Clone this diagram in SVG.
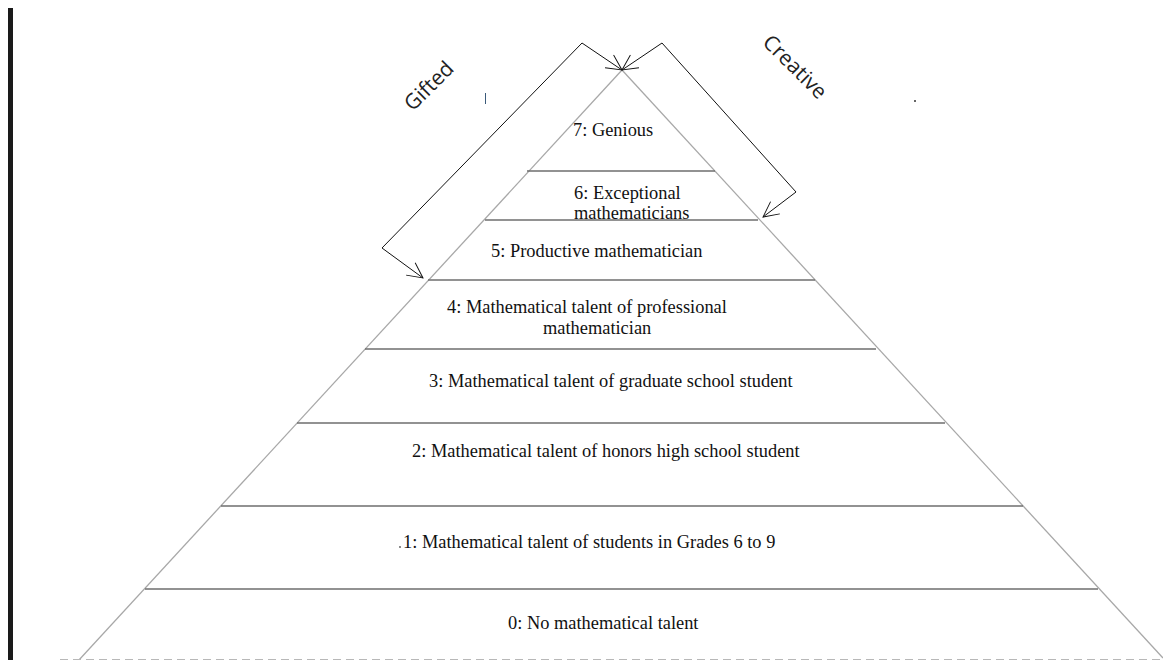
<svg xmlns="http://www.w3.org/2000/svg" width="1163" height="660" viewBox="0 0 1163 660">
  <style>
    .lbl { font-family: "Liberation Serif", "Times New Roman", serif; font-size: 18.4px; fill: #111; }
    .side { font-family: "Open Sans", "Noto Sans", "DejaVu Sans", sans-serif; font-size: 21px; fill: #222; }
    .edge { stroke: #a8a8a8; stroke-width: 1.3; fill: none; }
    .tier { stroke: #6e6e6e; stroke-width: 1.6; fill: none; }
    .conn { stroke: #111; stroke-width: 1; fill: none; }
  </style>
  <defs>
    <marker id="arr" viewBox="0 0 20 20" refX="19" refY="10" markerWidth="17" markerHeight="17" markerUnits="userSpaceOnUse" orient="auto-start-reverse">
      <path d="M1,1 L19,10 L1,19" fill="none" stroke="#111" stroke-width="1.1"/>
    </marker>
  </defs>
  <rect x="0" y="0" width="1163" height="660" fill="#ffffff"/>
  <rect x="8" y="8" width="5" height="652" fill="#1a1a1a"/>

  <g id="pyramid-outline">
    <line class="edge" x1="622" y1="70" x2="79" y2="660"/>
    <line class="edge" x1="622" y1="70" x2="1163" y2="658"/>
    <line x1="60" y1="659.5" x2="1163" y2="659.5" stroke="#b8b8b8" stroke-width="1" stroke-dasharray="8 5"/>
  </g>

  <g id="tier7">
    <text class="lbl" x="573" y="136">7: Genious</text>
  </g>
  <g id="tier6">
    <line class="tier" x1="527" y1="171" x2="715" y2="171"/>
    <text class="lbl" x="574" y="199">6: Exceptional</text>
    <text class="lbl" x="574" y="219">mathematicians</text>
  </g>
  <g id="tier5">
    <line class="tier" x1="485" y1="220" x2="758" y2="220"/>
    <text class="lbl" x="491" y="257">5: Productive mathematician</text>
  </g>
  <g id="tier4">
    <line class="tier" x1="428" y1="280" x2="815" y2="280"/>
    <text class="lbl" x="447" y="313">4: Mathematical talent of professional</text>
    <text class="lbl" x="543" y="334">mathematician</text>
  </g>
  <g id="tier3">
    <line class="tier" x1="365" y1="349" x2="876" y2="349"/>
    <text class="lbl" x="429" y="387">3: Mathematical talent of graduate school student</text>
  </g>
  <g id="tier2">
    <line class="tier" x1="297" y1="423" x2="945" y2="423"/>
    <text class="lbl" x="412" y="457">2: Mathematical talent of honors high school student</text>
  </g>
  <g id="tier1">
    <line class="tier" x1="221" y1="506" x2="1023" y2="506"/>
    <circle cx="400" cy="547" r="0.9" fill="#555"/>
    <text class="lbl" x="403" y="548">1: Mathematical talent of students in Grades 6 to 9</text>
  </g>
  <g id="tier0">
    <line class="tier" x1="145" y1="589" x2="1098" y2="589"/>
    <text class="lbl" x="508" y="629">0: No mathematical talent</text>
  </g>

  <g id="gifted-label">
    <text class="side" transform="translate(430,87) rotate(-45)" text-anchor="middle" dominant-baseline="middle">Gifted</text>
  </g>
  <g id="creative-label">
    <text class="side" transform="translate(794,68) rotate(45)" text-anchor="middle" dominant-baseline="middle">Creative</text>
  </g>

  <g id="connectors">
    <polyline class="conn" points="423,278 382,248 582,43 622,70" marker-start="url(#arr)" marker-end="url(#arr)"/>
    <polyline class="conn" points="622,70 662,43 796,192 763,217" marker-start="url(#arr)" marker-end="url(#arr)"/>
  </g>

  <line x1="485.5" y1="93" x2="485.5" y2="104" stroke="#3a5a7a" stroke-width="1"/>
  <rect x="914" y="100" width="2" height="2" fill="#666"/>
</svg>
